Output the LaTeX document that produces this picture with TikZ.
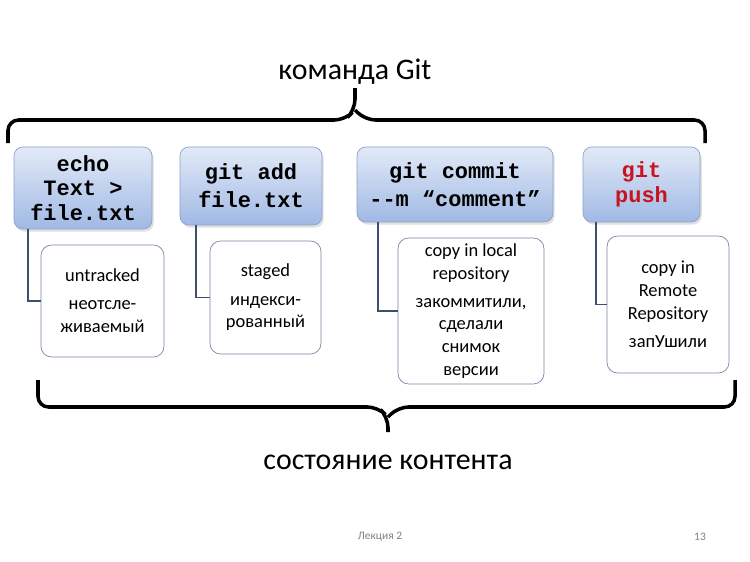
\documentclass[tikz,border=0pt]{standalone}
\usepackage{fontspec}
\setmainfont{Carlito}
\newfontfamily\cmdfont{Liberation Mono}
\usetikzlibrary{positioning, shadows}
\definecolor{cmdtop}{RGB}{226, 234, 248}
\definecolor{cmdbottom}{RGB}{160, 185, 228}
\definecolor{cmdline}{RGB}{140, 160, 200}
\definecolor{stateline}{RGB}{120, 135, 165}
\definecolor{linkblue}{RGB}{60, 80, 110}
\definecolor{pushred}{RGB}{200, 20, 30}

\begin{document}
\begin{tikzpicture}[x=0.02cm, y=-0.02cm,
    cmd/.style={rectangle, draw=cmdline, rounded corners=5pt, top color=cmdtop, bottom color=cmdbottom,
        drop shadow={opacity=0.25, shadow xshift=1pt, shadow yshift=-1.5pt},
        font=\cmdfont\bfseries\fontsize{12.5}{14}\selectfont, align=center, inner sep=0pt},
    state/.style={rectangle, draw=stateline, rounded corners=6pt, fill=white, align=center,
        font=\fontsize{10.5}{13}\selectfont, inner sep=0pt},
    link/.style={draw=linkblue, line width=0.9pt},
    brace/.style={line width=2pt, rounded corners=6pt}
]
    \useasboundingbox (0,0) rectangle (750,561);

    % title and top brace
    \node[font=\fontsize{17}{20}\selectfont] (title) at (355,72) {команда Git};
    \draw[brace] (8,143) -- (8,120) -- (345,120) -- (355,110) -- (355,88);
    \draw[brace] (355,110) -- (365,120) -- (705,120) -- (705,143);

    % commands
    \node[cmd, minimum width=2.76cm, minimum height=1.64cm] (echo) at (83,188) {echo\\Text >\\file.txt};
    \node[cmd, minimum width=2.84cm, minimum height=1.56cm] (add) at (251,186) {git add\\[2pt]file.txt};
    \node[cmd, minimum width=3.92cm, minimum height=1.5cm] (commit) at (455,184.5) {git commit\\[2pt]--m “comment”};
    \node[cmd, minimum width=2.34cm, minimum height=1.5cm, text=pushred] (push) at (641.5,184.5) {git\\push};

    % states
    \node[state, minimum width=2.46cm, minimum height=2.24cm] (untracked) at (102.5,301)
        {untracked\\[3pt]неотсле-\\живаемый};
    \node[state, minimum width=2.22cm, minimum height=2.26cm] (staged) at (265.5,297.5)
        {staged\\[3pt]индекси-\\рованный};
    \node[state, minimum width=2.92cm, minimum height=2.92cm] (local) at (471,311)
        {copy in local\\repository\\[3pt]закоммитили,\\сделали\\снимок\\версии};
    \node[state, minimum width=2.44cm, minimum height=2.74cm] (remote) at (668,304.5)
        {copy in\\Remote\\Repository\\[3pt]запУшили};

    % links
    \draw[link] (echo.south -| 28,0) |- (untracked.west);
    \draw[link] (add.south -| 196,0) |- (staged.west);
    \draw[link] (commit.south -| 378,0) |- (local.west);
    \draw[link] (push.south -| 596,0) |- (remote.west);

    % bottom brace and caption
    \draw[brace] (38,380) -- (38,407) -- (378,407) -- (388,417) -- (388,432);
    \draw[brace] (388,417) -- (398,407) -- (735,407) -- (735,380);
    \node[font=\fontsize{17}{20}\selectfont] (content) at (388,462) {состояние контента};

    % footer
    \node[font=\fontsize{6.5}{8}\selectfont, text=gray] (lecture) at (380,537) {Лекция 2};
    \node[font=\fontsize{6.5}{8}\selectfont, text=gray] (page) at (700,537) {13};
\end{tikzpicture}
\end{document}
